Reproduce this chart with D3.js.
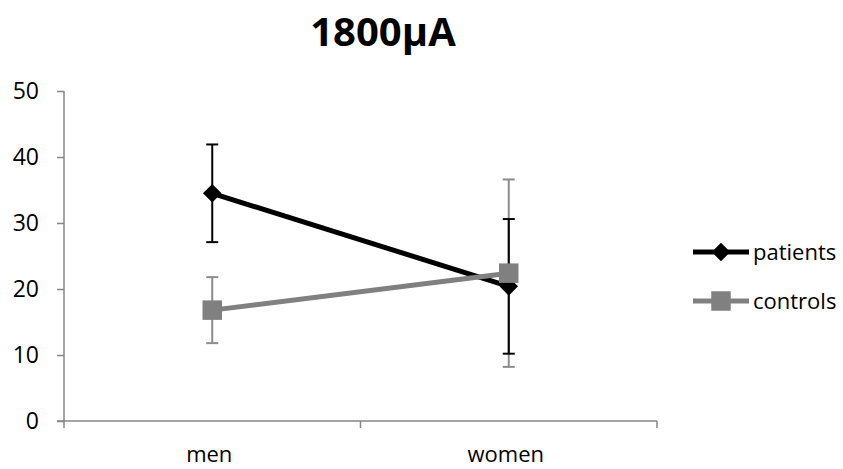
<!DOCTYPE html>
<html>
<head>
<meta charset="utf-8">
<script src="https://cdn.jsdelivr.net/npm/d3@7"></script>
<style>
  body { margin: 0; background: #fff; }
  text { font-family: "Open Sans", sans-serif; fill: #000; }
</style>
</head>
<body>
<svg id="chart" width="843" height="469"></svg>
<script>
// Chart data
const title = "1800\u00b5A";
const categories = ["men", "women"];
const seriesNames = ["patients", "controls"];
const patientsMean = [34.5, 20.4];
const patientsErr = [7.4, 10.2];
const controlsMean = [16.8, 22.4];
const controlsErr = [5.0, 14.2];
const yTicks = [0, 10, 20, 30, 40, 50];

const series = [
  { name: seriesNames[0], mean: patientsMean, err: patientsErr, line: "#000", bar: "#000", marker: "diamond" },
  { name: seriesNames[1], mean: controlsMean, err: controlsErr, line: "#808080", bar: "#8c8c8c", marker: "square" }
];

const svg = d3.select("#chart");

// Plot area
const plotLeft = 64, plotRight = 657, plotTop = 91, plotBottom = 421;

const x = d3.scaleBand()
  .domain(categories)
  .range([plotLeft, plotRight])
  .padding(0);

const y = d3.scaleLinear()
  .domain([0, 50])
  .range([plotBottom, plotTop]);

const cx = (c) => x(c) + x.bandwidth() / 2;
const axisColor = "#868686";

// Title
svg.append("text")
  .attr("x", 383)
  .attr("y", 46)
  .attr("text-anchor", "middle")
  .attr("font-size", "40px")
  .attr("font-weight", "bold")
  .text(title);

// Y axis
const yAxis = d3.axisLeft(y).tickValues(yTicks).tickSize(7).tickPadding(18);
const gy = svg.append("g")
  .attr("transform", `translate(${plotLeft},0)`)
  .call(yAxis);
gy.select(".domain").attr("stroke", axisColor).attr("stroke-width", 1.5)
  .attr("d", `M0,${plotTop}V${plotBottom}`);
gy.selectAll(".tick line").attr("stroke", axisColor).attr("stroke-width", 1.5);
gy.selectAll(".tick text")
  .attr("font-size", "23px")
  .attr("font-family", "'Open Sans', sans-serif")
  .attr("fill", "#000");

// X axis (ticks at category boundaries)
const gx = svg.append("g");
gx.append("line")
  .attr("x1", plotLeft - 7).attr("x2", plotRight)
  .attr("y1", plotBottom).attr("y2", plotBottom)
  .attr("stroke", axisColor).attr("stroke-width", 1.5);
const bounds = categories.map((c) => x(c)).concat([x(categories[categories.length - 1]) + x.bandwidth()]);
gx.selectAll(".xtick")
  .data(bounds)
  .join("line")
  .attr("class", "xtick")
  .attr("x1", (d) => d).attr("x2", (d) => d)
  .attr("y1", plotBottom).attr("y2", plotBottom + 7)
  .attr("stroke", axisColor).attr("stroke-width", 1.5);
gx.selectAll(".xlabel")
  .data(categories)
  .join("text")
  .attr("class", "xlabel")
  .attr("x", (d) => cx(d) - 3)
  .attr("y", 462)
  .attr("text-anchor", "middle")
  .attr("font-size", "22px")
  .text((d) => d);

// Marker shapes
const diamond = d3.symbol().type(d3.symbolDiamond2).size(220);
const square = d3.symbol().type(d3.symbolSquare).size(380);
const markerPath = (m) => (m === "diamond" ? diamond() : square());

const line = d3.line()
  .x((d, i) => cx(categories[i]))
  .y((d) => y(d));

// Error bars
function drawErrors(s) {
  const g = svg.append("g");
  s.mean.forEach((m, i) => {
    const px = cx(categories[i]);
    const y1 = y(m + s.err[i]), y0 = y(m - s.err[i]);
    g.append("line").attr("x1", px).attr("x2", px).attr("y1", y1).attr("y2", y0)
      .attr("stroke", s.bar).attr("stroke-width", 2);
    [y1, y0].forEach((yy) => {
      g.append("line").attr("x1", px - 6).attr("x2", px + 6).attr("y1", yy).attr("y2", yy)
        .attr("stroke", s.bar).attr("stroke-width", 2);
    });
  });
}

function drawSeries(s) {
  svg.append("path")
    .datum(s.mean)
    .attr("fill", "none")
    .attr("stroke", s.line)
    .attr("stroke-width", 5)
    .attr("d", line);
  svg.selectAll(null)
    .data(s.mean)
    .join("path")
    .attr("transform", (d, i) => `translate(${cx(categories[i])},${y(d)})`)
    .attr("d", markerPath(s.marker))
    .attr("fill", s.line);
}

drawErrors(series[1]);
drawErrors(series[0]);
drawSeries(series[0]);
drawSeries(series[1]);

// Legend
const legend = svg.append("g");
series.forEach((s, i) => {
  const ly = 252 + i * 49;
  legend.append("line")
    .attr("x1", 693).attr("x2", 749)
    .attr("y1", ly).attr("y2", ly)
    .attr("stroke", s.line).attr("stroke-width", 5);
  legend.append("path")
    .attr("transform", `translate(721,${ly})`)
    .attr("d", markerPath(s.marker))
    .attr("fill", s.line);
  legend.append("text")
    .attr("x", 753)
    .attr("y", ly + 8)
    .attr("font-size", "22px")
    .text(s.name);
});
</script>
</body>
</html>
